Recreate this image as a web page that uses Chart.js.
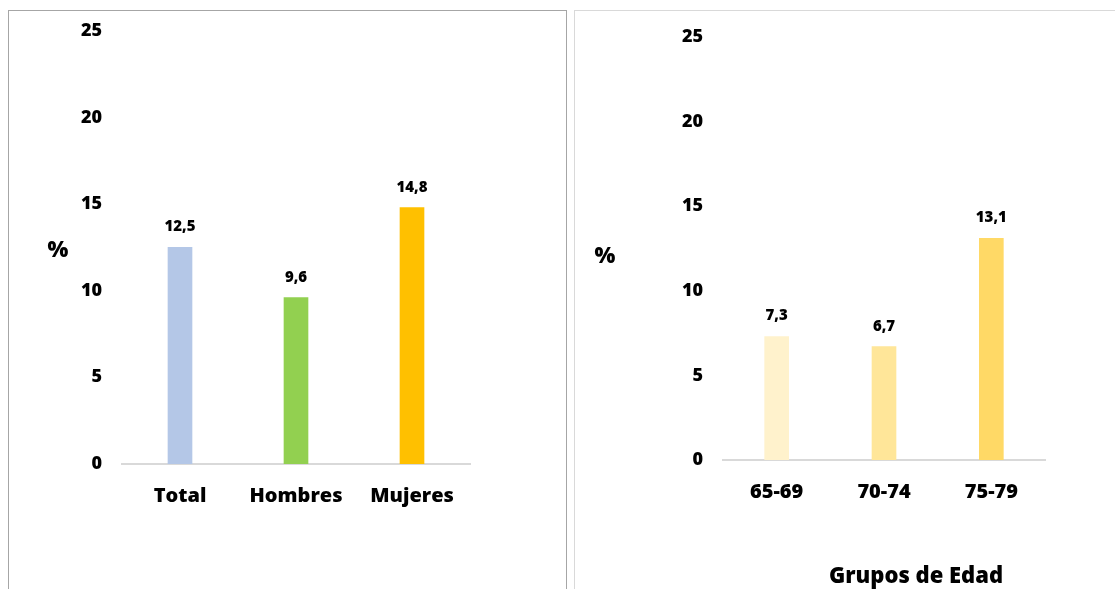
<!DOCTYPE html>
<html>
<head>
<meta charset="utf-8">
<script src="https://cdn.jsdelivr.net/npm/chart.js@4/dist/chart.umd.min.js"></script>
<style>
  html, body { margin: 0; padding: 0; background: #fff; }
  body { width: 1115px; height: 589px; position: relative; overflow: hidden; font-family: "Open Sans", sans-serif; }
  .panel { position: absolute; top: 10px; height: 620px; box-sizing: border-box; }
  #panelLeft  { left: 8px;   width: 559px; border: 1px solid #a6a6a6; }
  #panelRight { left: 574px; width: 620px; border: 1px solid #d9d9d9; }
  canvas { position: absolute; top: 0; }
  #sexChart { left: 0; }
  #ageChart { left: 574px; }
  .lbl { position: absolute; font-weight: 800; color: #000; line-height: 1; transform: translate(-50%, -50%); white-space: nowrap; }
</style>
</head>
<body>
<div class="panel" id="panelLeft"></div>
<div class="panel" id="panelRight"></div>
<canvas id="sexChart" width="567" height="589"></canvas>
<canvas id="ageChart" width="541" height="589"></canvas>
<div class="lbl" style="left:58px; top:248px; font-size:22px">%</div>
<div class="lbl" style="left:605px; top:254px; font-size:22px">%</div>
<div class="lbl" style="left:916px; top:574px; font-size:22px">Grupos de Edad</div>

<script>
const sexLabels = ['Total', 'Hombres', 'Mujeres']
const sexValues = [12.5, 9.6, 14.8]
const sexColors = ['#b4c7e7', '#92d050', '#ffc000']

const ageLabels = ['65-69', '70-74', '75-79']
const ageValues = [7.3, 6.7, 13.1]
const ageColors = ['#fff2cc', '#ffe699', '#ffd966']

const yTicks = [0, 5, 10, 15, 20, 25]

const FONT = '"Open Sans", sans-serif'

// value above each bar, decimal comma
const valueLabels = {
  id: 'valueLabels',
  afterDatasetsDraw(chart) {
    const ctx  = chart.ctx
    const meta = chart.getDatasetMeta(0)
    const vals = chart.data.datasets[0].data
    ctx.save()
    ctx.font = `800 15px ${FONT}`
    ctx.fillStyle = '#000'
    ctx.textAlign = 'center'
    ctx.textBaseline = 'alphabetic'
    meta.data.forEach((bar, i) => {
      ctx.fillText(vals[i].toFixed(1).replace('.', ','), bar.x, bar.y - 16)
    })
    ctx.restore()
  }
}

function makeChart(id, labels, values, colors, box) {
  return new Chart(document.getElementById(id), {
    type: 'bar',
    data: {
      labels,
      datasets: [{ data: values, backgroundColor: colors, barThickness: 24 }]
    },
    options: {
      responsive: false,
      animation: false,
      layout: { padding: { top: box.top, right: box.right, left: 0, bottom: 0 } },
      plugins: { legend: { display: false }, tooltip: { enabled: false } },
      scales: {
        x: {
          grid: { display: false, drawTicks: false },
          border: { display: true, color: '#d9d9d9', width: 2 },
          ticks: { color: '#000', padding: 20, font: { family: FONT, size: 20, weight: 800 } },
          afterFit: s => { s.height = box.bottom }
        },
        y: {
          min: yTicks[0],
          max: yTicks[yTicks.length - 1],
          grid: { display: false, drawTicks: false },
          border: { display: false },
          ticks: { color: '#000', padding: 20, font: { family: FONT, size: 18, weight: 800 } },
          afterBuildTicks: s => { s.ticks = yTicks.map(v => ({ value: v })) },
          afterFit: s => { s.width = box.left }
        }
      }
    },
    plugins: [valueLabels]
  })
}

makeChart('sexChart', sexLabels, sexValues, sexColors, { left: 122, top: 29, right: 97, bottom: 125 })
makeChart('ageChart', ageLabels, ageValues, ageColors, { left: 149, top: 37, right: 70, bottom: 129 })
</script>
</body>
</html>
